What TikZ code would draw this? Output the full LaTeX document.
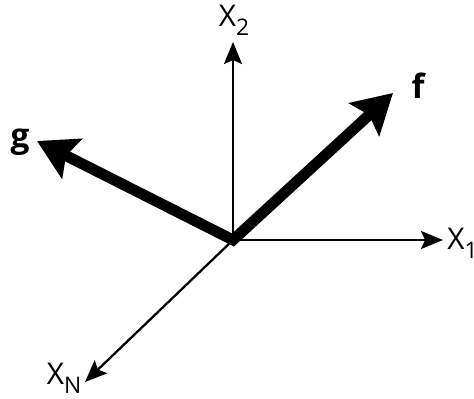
\documentclass[tikz,border=0pt]{standalone}
\usepackage{fontspec}
\setmainfont{Open Sans}
\usetikzlibrary{arrows.meta, positioning}
\newcommand{\axsub}[1]{\raisebox{-0.55ex}{\fontsize{13}{14}\selectfont #1}}
\tikzset{
  every picture/.style={x=0.02cm, y=-0.02cm},
  axis/.style={-{Stealth[length=0.44cm, width=0.36cm, inset=0.08cm]}, line width=1.3pt},
  vec/.style={{Stealth[length=0.78cm, width=0.88cm, inset=0.13cm]}-{Stealth[length=0.78cm, width=0.88cm, inset=0.13cm]}, line width=6.2pt, line join=miter},
  axlabel/.style={font=\fontsize{17}{19}\selectfont, inner sep=0pt},
  veclabel/.style={font=\fontsize{19}{21}\selectfont\bfseries, inner sep=0pt},
}
\begin{document}
\begin{tikzpicture}
  \useasboundingbox (0,0) rectangle (474,399);
  \coordinate (o) at (233,240);
  \coordinate (x1) at (443,240);
  \coordinate (x2) at (233,42);
  \coordinate (xn) at (85,382);
  \coordinate (f) at (393,93);
  \coordinate (g) at (37,141);
  % axes
  \draw[axis] (o) -- (x1);
  \draw[axis] (o) -- (x2);
  \draw[axis] (o) -- (xn);
  % vectors
  \draw[vec] (g) -- (o) -- (f);
  % labels
  \node[axlabel, anchor=west] (lx1) at (447,243) {X\axsub{1}};
  \node[axlabel] (lx2) at (234,20) {X\axsub{2}};
  \node[axlabel] (lxn) at (64,378) {X\axsub{N}};
  \node[veclabel] (lf) at (418,86) {f};
  \node[veclabel] (lg) at (20,142) {g};
\end{tikzpicture}
\end{document}
